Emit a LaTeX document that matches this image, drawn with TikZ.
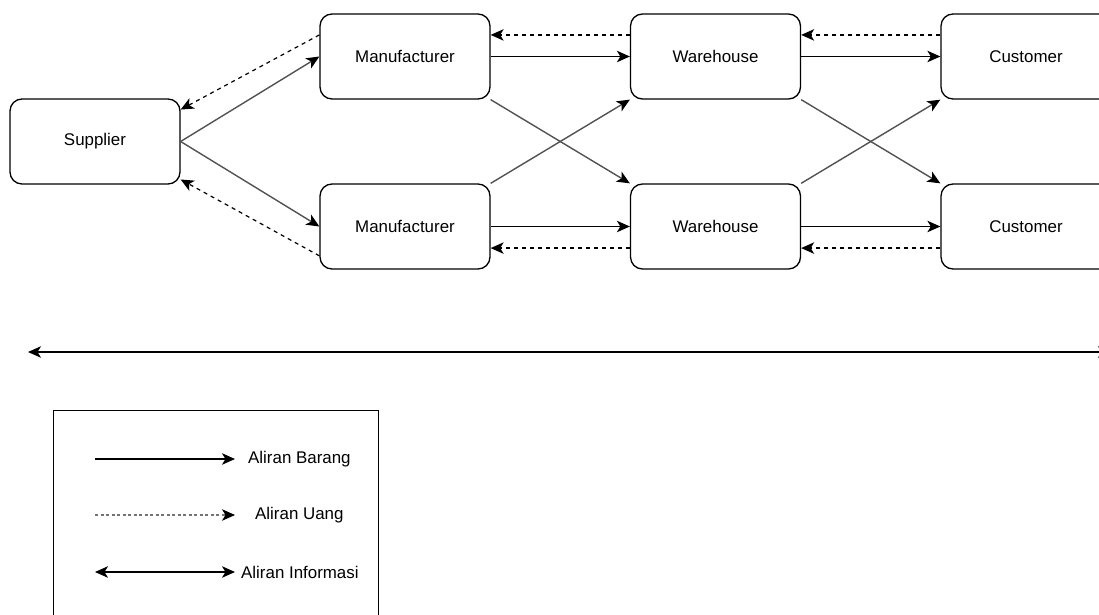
\documentclass[tikz,border=0pt]{standalone}
\usepackage{fontspec}
\setmainfont{Liberation Sans}
\usetikzlibrary{arrows.meta,calc}
\begin{document}
\begin{tikzpicture}[x=1pt,y=-1pt,
  box/.style={draw, line width=1.3pt, rounded corners=12pt, minimum width=170pt,
    minimum height=85pt, inner sep=0pt, font=\fontsize{16.9}{20}\selectfont},
  arrowtip/.style={-{Stealth[length=13pt,width=11.5pt,inset=3.5pt,fill=black,color=black]}},
  goods/.style={line width=1.4pt, arrowtip},
  diag/.style={goods, draw=black!68},
  money/.style={line width=1.2pt, dash pattern=on 4pt off 4pt, arrowtip},
  infoflow/.style={line width=1.4pt, {Stealth[length=13pt,width=11.5pt,inset=3.5pt]}-{Stealth[length=13pt,width=11.5pt,inset=3.5pt]}},
  legtext/.style={anchor=west, inner sep=0pt, font=\fontsize{16.9}{20}\selectfont}
]
\useasboundingbox (0,0) rectangle (1099,615);
\clip (0,0) rectangle (1099,615);

% nodes
\node[box] (sup) at (95,141.5) {Supplier};
\node[box] (mt) at (405,56.5) {Manufacturer};
\node[box] (mb) at (405,226.5) {Manufacturer};
\node[box] (wt) at (715.5,56.5) {Warehouse};
\node[box] (wb) at (715.5,226.5) {Warehouse};
\node[box] (ct) at (1026,56.5) {Customer};
\node[box] (cb) at (1026,226.5) {Customer};

% supplier <-> manufacturers
\draw[diag] (sup.east) -- (mt.west);
\draw[diag] (sup.east) -- (mb.west);
\coordinate (mtd) at ($(mt.west)!0.5!(mt.north west)$);
\coordinate (supt) at ($(sup.east)!0.74!(sup.north east)$);
\draw[money] (mtd) -- (supt);
\coordinate (mbd) at ($(mb.west)!0.68!(mb.south west)$);
\coordinate (supb) at ($(sup.east)!0.88!(sup.south east)$);
\draw[money] (mbd) -- (supb);

% manufacturers <-> warehouses
\draw[goods] (mt.east) -- (wt.west);
\coordinate (wtd) at ($(wt.west)!0.5!(wt.north west)$);
\draw[money] (wtd) -- (mt.east |- wtd);
\draw[goods] (mb.east) -- (wb.west);
\coordinate (wbd) at ($(wb.west)!0.5!(wb.south west)$);
\draw[money] (wbd) -- (mb.east |- wbd);
\draw[diag] (mt.south east) -- (wb.north west);
\draw[diag] (mb.north east) -- (wt.south west);

% warehouses <-> customers
\draw[goods] (wt.east) -- (ct.west);
\coordinate (ctd) at ($(ct.west)!0.5!(ct.north west)$);
\draw[money] (ctd) -- (wt.east |- ctd);
\draw[goods] (wb.east) -- (cb.west);
\coordinate (cbd) at ($(cb.west)!0.5!(cb.south west)$);
\draw[money] (cbd) -- (wb.east |- cbd);
\draw[diag] (wt.south east) -- (cb.north west);
\draw[diag] (wb.north east) -- (ct.south west);

% information flow
\coordinate (infoL) at (28,352);
\coordinate (infoR) at (1111,352);
\draw[infoflow] (infoL) -- (infoR);

% legend
\node[draw, line width=1.2pt, minimum width=325pt, minimum height=240pt, inner sep=0pt,
  anchor=north west] (legend) at (53,410) {};
\coordinate (l1a) at (95,459);
\coordinate (l1b) at (235,459);
\draw[goods] (l1a) -- (l1b);
\node[legtext] (t1) at (248,459) {Aliran Barang};
\coordinate (l2a) at (95,515);
\coordinate (l2b) at (235,515);
\draw[money, line width=1.1pt, draw=black!55, dash pattern=on 3pt off 2.5pt] (l2a) -- (l2b);
\node[legtext] (t2) at (255,515) {Aliran Uang};
\coordinate (l3a) at (95,572);
\coordinate (l3b) at (235,572);
\draw[infoflow] (l3a) -- (l3b);
\node[legtext] (t3) at (241,572) {Aliran Informasi};
\end{tikzpicture}
\end{document}
